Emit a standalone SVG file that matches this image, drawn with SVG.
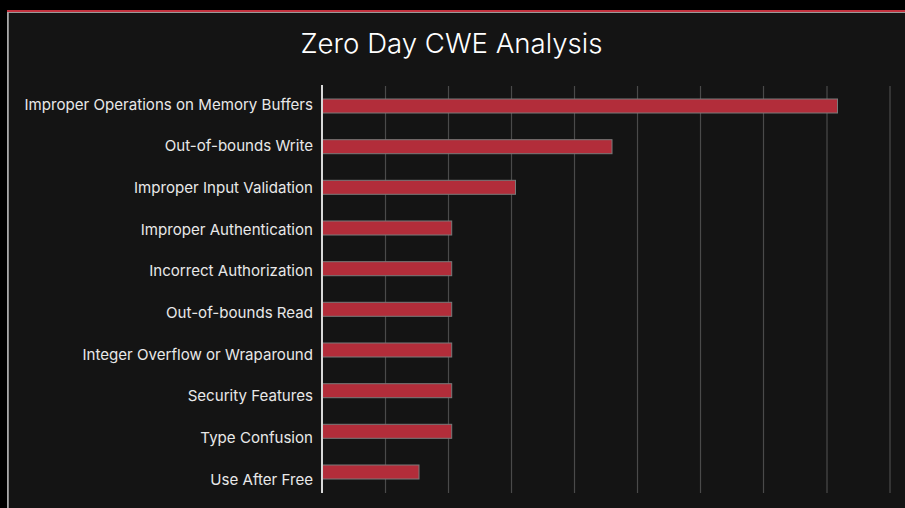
<svg xmlns="http://www.w3.org/2000/svg" width="905" height="508" viewBox="0 0 905 508">
  <style>
    .title { font-family: Inter, "Noto Sans", "Liberation Sans", sans-serif; font-size: 27.6px; font-weight: 300; fill: #ffffff; text-anchor: middle; }
    .label { font-family: Inter, "Noto Sans", "Liberation Sans", sans-serif; font-size: 15.1px; fill: #e8e8e8; text-anchor: end; }
    .grid { stroke: #4a4a4a; stroke-width: 1.2; }
    .axis { stroke: #d8d8d8; stroke-width: 2; }
    .bar { fill: #b22d3a; stroke: #7a7a7a; stroke-width: 1; }
  </style>

  <!-- page and card -->
  <rect x="0" y="0" width="905" height="508" fill="#000000"/>
  <rect x="7" y="10" width="898" height="498" fill="#141414"/>
  <rect x="7" y="10" width="898" height="2" fill="#c4323f"/>
  <rect x="7" y="12" width="898" height="1" fill="#9a9a9a"/>
  <rect x="7" y="12" width="1.8" height="496" fill="#a8a8a8"/>

  <text class="title" x="451.5" y="52.5">Zero Day CWE Analysis</text>

  <!-- gridlines -->
  <g id="gridlines">
    <line class="grid" x1="385.5" y1="86" x2="385.5" y2="493"/>
    <line class="grid" x1="448.5" y1="86" x2="448.5" y2="493"/>
    <line class="grid" x1="511.5" y1="86" x2="511.5" y2="493"/>
    <line class="grid" x1="574.5" y1="86" x2="574.5" y2="493"/>
    <line class="grid" x1="637.5" y1="86" x2="637.5" y2="493"/>
    <line class="grid" x1="700.5" y1="86" x2="700.5" y2="493"/>
    <line class="grid" x1="763.5" y1="86" x2="763.5" y2="493"/>
    <line class="grid" x1="827" y1="86" x2="827" y2="493"/>
    <line class="grid" x1="890" y1="86" x2="890" y2="493"/>
  </g>

  <!-- bars -->
  <g id="bars">
    <rect class="bar" x="322" y="99" width="515.5" height="14"/>
    <rect class="bar" x="322" y="139.7" width="290" height="14"/>
    <rect class="bar" x="322" y="180.3" width="193.5" height="14"/>
    <rect class="bar" x="322" y="221" width="129.7" height="14"/>
    <rect class="bar" x="322" y="261.7" width="129.7" height="14"/>
    <rect class="bar" x="322" y="302.3" width="129.7" height="14"/>
    <rect class="bar" x="322" y="343" width="129.7" height="14"/>
    <rect class="bar" x="322" y="383.7" width="129.7" height="14"/>
    <rect class="bar" x="322" y="424.3" width="129.7" height="14"/>
    <rect class="bar" x="322" y="465" width="97" height="14"/>
  </g>

  <!-- category axis -->
  <line class="axis" x1="322" y1="85" x2="322" y2="493"/>

  <!-- category labels -->
  <g id="labels">
    <text class="label" x="313" y="109.5">Improper Operations on Memory Buffers</text>
    <text class="label" x="313" y="151.2">Out-of-bounds Write</text>
    <text class="label" x="313" y="192.9">Improper Input Validation</text>
    <text class="label" x="313" y="234.6">Improper Authentication</text>
    <text class="label" x="313" y="276.3">Incorrect Authorization</text>
    <text class="label" x="313" y="318">Out-of-bounds Read</text>
    <text class="label" x="313" y="359.7">Integer Overflow or Wraparound</text>
    <text class="label" x="313" y="401.4">Security Features</text>
    <text class="label" x="313" y="443.1">Type Confusion</text>
    <text class="label" x="313" y="484.8">Use After Free</text>
  </g>
</svg>
